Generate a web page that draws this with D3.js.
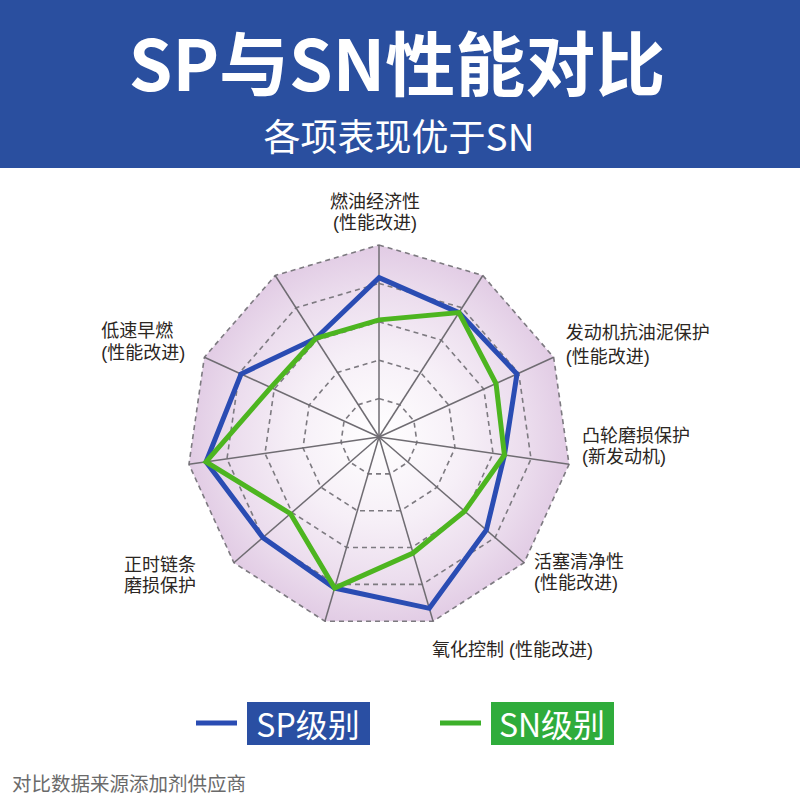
<!DOCTYPE html>
<html>
<head>
<meta charset="utf-8">
<script src="https://cdn.jsdelivr.net/npm/d3@7"></script>
<style>
  html, body { margin: 0; padding: 0; background: #ffffff; }
  svg { display: block; }
  text { font-family: "Noto Sans CJK SC", "Noto Sans", sans-serif; }
  text.axis-label { font-family: "Liberation Sans", "Noto Sans CJK SC", sans-serif; }
</style>
</head>
<body>
<svg id="chart" width="800" height="800"></svg>
<script>
// ---- data ----
const title = "SP与SN性能对比";
const subtitle = "各项表现优于SN";
const footnote = "对比数据来源添加剂供应商";
const axisLabels = [
  ["燃油经济性", "(性能改进)"],
  [],
  ["发动机抗油泥保护", "(性能改进)"],
  ["凸轮磨损保护", "(新发动机)"],
  ["活塞清净性", "(性能改进)"],
  ["氧化控制 (性能改进)"],
  [],
  ["正时链条", "磨损保护"],
  [],
  ["低速早燃", "(性能改进)"],
  []
];
const seriesNames = ["SP级别", "SN级别"];
const spValues = [83, 77, 79, 66, 74, 93, 82, 80, 91, 79, 61];
const snValues = [61, 77, 67, 66, 59, 63, 82, 61, 91, 62, 61];
const ringLevels = [20, 40, 60, 80, 100];

// ---- layout ----
const cx = 379, cy = 437, R = 192;
const n = axisLabels.length;
const labelLayout = {
  0: { anchor: "middle", dx: -4, dy: -43, gap: 21 },
  2: { anchor: "start", dx: 12, dy: -24, gap: 24 },
  3: { anchor: "start", dx: 13, dy: -28, gap: 21 },
  4: { anchor: "start", dx: 10, dy: -1, gap: 21 },
  5: { anchor: "start", dx: -1, dy: 29, gap: 21 },
  7: { anchor: "end", dx: -38, dy: 2, gap: 21 },
  9: { anchor: "start", dx: -103, dy: -26, gap: 22 }
};

const svg = d3.select("#chart");
const r = d3.scaleLinear().domain([0, 100]).range([0, R]);
const angle = d3.scaleLinear().domain([0, n]).range([0, 2 * Math.PI]);
const pt = (i, v) => [cx + r(v) * Math.sin(angle(i)), cy - r(v) * Math.cos(angle(i))];

// header band
svg.append("rect").attr("x", 0).attr("y", 0).attr("width", 800).attr("height", 168).attr("fill", "#2a4f9f");
svg.append("text").attr("x", 397).attr("y", 60).attr("text-anchor", "middle").attr("dominant-baseline", "central")
  .attr("fill", "#ffffff").attr("font-size", 70).attr("font-weight", 700).text(title);
svg.append("text").attr("x", 399).attr("y", 135).attr("text-anchor", "middle").attr("dominant-baseline", "central")
  .attr("fill", "#ffffff").attr("font-size", 37).attr("font-weight", 400).text(subtitle);

// gradient
const defs = svg.append("defs");
const grad = defs.append("radialGradient").attr("id", "bgGrad")
  .attr("gradientUnits", "userSpaceOnUse").attr("cx", cx).attr("cy", cy).attr("r", R);
grad.append("stop").attr("offset", "0%").attr("stop-color", "#ffffff");
grad.append("stop").attr("offset", "45%").attr("stop-color", "#f6eff7");
grad.append("stop").attr("offset", "78%").attr("stop-color", "#ebdced");
grad.append("stop").attr("offset", "100%").attr("stop-color", "#e1cbe4");

const idx = d3.range(n);
const line = d3.line().curve(d3.curveLinearClosed);

// outer fill
svg.append("path").attr("d", line(idx.map(i => pt(i, 100)))).attr("fill", "url(#bgGrad)");

// rings
svg.append("g").selectAll("path").data(ringLevels).join("path")
  .attr("d", lv => line(idx.map(i => pt(i, lv))))
  .attr("fill", "none").attr("stroke", "#7d7a80").attr("stroke-width", 1.6)
  .attr("stroke-dasharray", "5,4");

// spokes
svg.append("g").selectAll("line").data(idx).join("line")
  .attr("x1", cx).attr("y1", cy)
  .attr("x2", i => pt(i, 100)[0]).attr("y2", i => pt(i, 100)[1])
  .attr("stroke", "#6f6c72").attr("stroke-width", 1.5);

// series
const seriesColors = ["#2a4cb3", "#4db520"];
[spValues, snValues].forEach((vals, k) => {
  svg.append("path").attr("d", line(vals.map((v, i) => pt(i, v))))
    .attr("fill", "none").attr("stroke", seriesColors[k]).attr("stroke-width", 5)
    .attr("stroke-linejoin", "miter");
});

// axis labels
axisLabels.forEach((lines, i) => {
  if (!lines.length) return;
  const L = labelLayout[i];
  const [x0, y0] = pt(i, 100);
  lines.forEach((s, j) => {
    svg.append("text").attr("class", "axis-label").attr("text-anchor", L.anchor).attr("fill", "#2b2622").attr("font-size", 18)
      .attr("x", x0 + L.dx).attr("y", y0 + L.dy + j * L.gap)
      .attr("dominant-baseline", "central").text(s);
  });
});

// legend
const legendColors = ["#2a4fa3", "#2fac3b"];
const legendLine = ["#2a4cb3", "#3cb02a"];
const legX = [196, 440];
seriesNames.forEach((name, k) => {
  const g = svg.append("g").attr("transform", `translate(${legX[k]},0)`);
  g.append("line").attr("x1", 0).attr("x2", 41).attr("y1", 723).attr("y2", 723)
    .attr("stroke", legendLine[k]).attr("stroke-width", 5);
  g.append("rect").attr("x", 51).attr("y", 702).attr("width", 123).attr("height", 43).attr("fill", legendColors[k]);
  g.append("text").attr("x", 112).attr("y", 723).attr("text-anchor", "middle").attr("dominant-baseline", "central")
    .attr("fill", "#ffffff").attr("font-size", 32).text(name);
});

// footnote
svg.append("text").attr("x", 12).attr("y", 782).attr("dominant-baseline", "central")
  .attr("fill", "#6a6a6a").attr("font-size", 19.5).text(footnote);
</script>
</body>
</html>
